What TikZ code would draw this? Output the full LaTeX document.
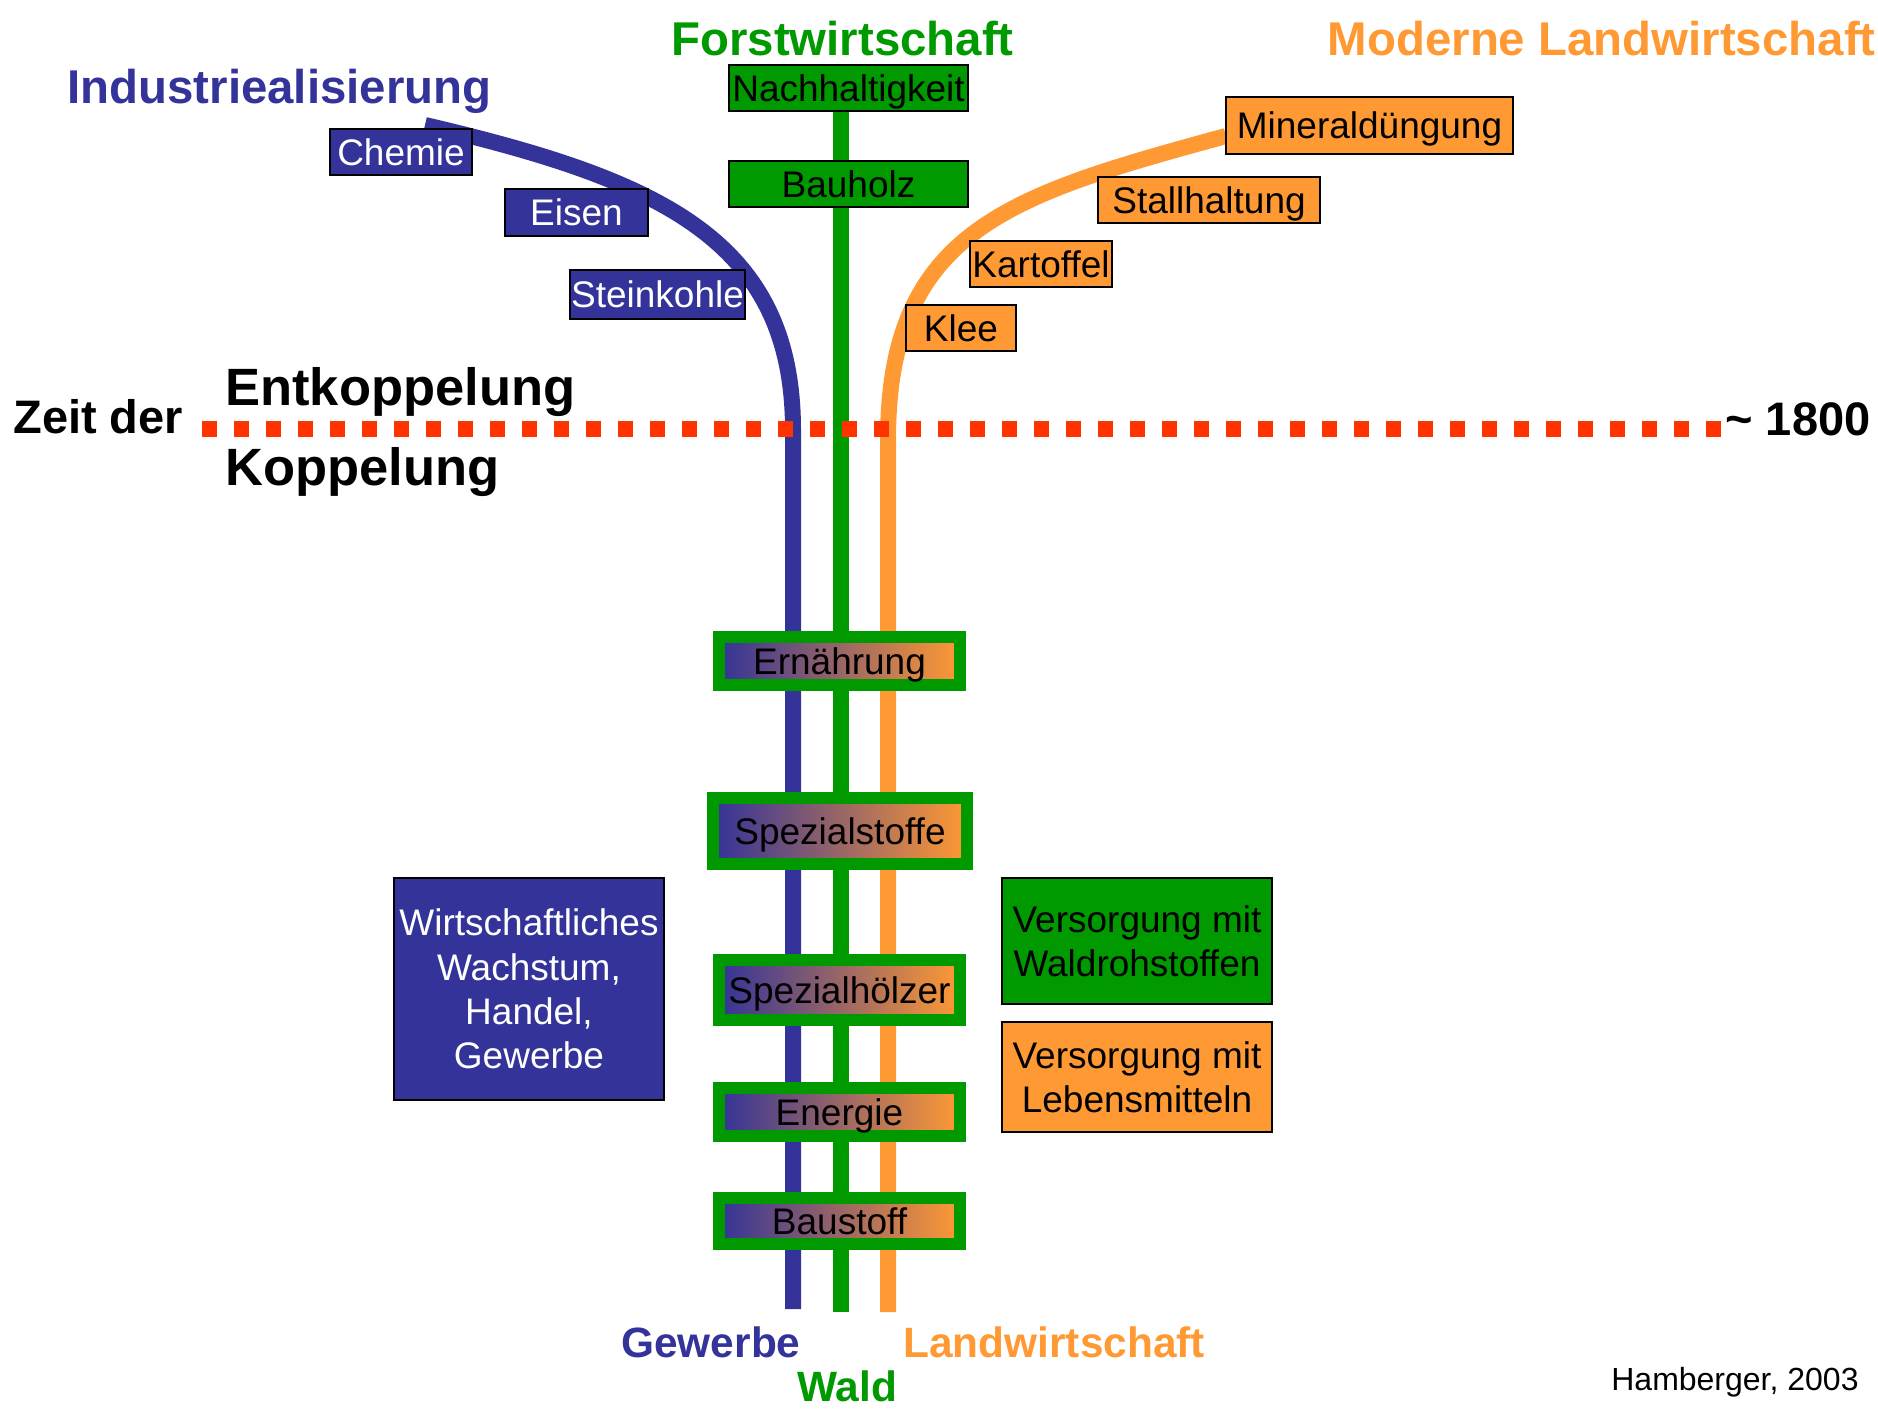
\documentclass[tikz,border=0pt]{standalone}
\usepackage{fontspec}
\setmainfont{Liberation Sans}
\definecolor{cblue}{HTML}{333399}
\definecolor{cgreen}{HTML}{009900}
\definecolor{corange}{HTML}{FF9933}
\definecolor{cred}{HTML}{FF3300}
\tikzset{
  track/.style={line width=8pt},
  lbl/.style={draw=black, line width=1pt, inner sep=0pt, font=\fontsize{18.5}{22.2}\selectfont, text height=13.25pt, text depth=0pt},
  mlbl/.style={draw=black, line width=1pt, inner sep=0pt, font=\fontsize{18.5}{22.2}\selectfont, align=center},
  gradbox/.style={draw=cgreen, line width=6pt, left color=cblue, right color=corange, inner sep=0pt, font=\fontsize{18.5}{22.2}\selectfont, text height=13.25pt, text depth=0pt},
  hd/.style={inner sep=0pt, font=\bfseries\fontsize{23.7}{28}\selectfont},
  hdb/.style={inner sep=0pt, font=\bfseries\fontsize{26.25}{30}\selectfont},
  hdm/.style={inner sep=0pt, font=\bfseries\fontsize{23.5}{28}\selectfont},
  hdf/.style={inner sep=0pt, font=\bfseries\fontsize{21.2}{25}\selectfont},
}
\begin{document}
\begin{tikzpicture}[x=0.5pt,y=-0.5pt]
\fill[white] (0,0) rectangle (1878,1408);
\useasboundingbox (0,0) rectangle (1878,1408);

% tracks
\coordinate (bTop) at (425,125);
\coordinate (bBot) at (793,1309);
\coordinate (gTop) at (841,100);
\coordinate (gBot) at (841,1312);
\coordinate (oTop) at (1226,136);
\coordinate (oBot) at (888,1312);
\draw[track, cblue] (bTop) .. controls (660,180) and (793,240) .. (793,430) -- (bBot);
\draw[track, cgreen] (gTop) -- (gBot);
\draw[track, corange] (oTop) .. controls (1010,195) and (888,230) .. (888,440) -- (oBot);

% dotted line
\foreach \i in {0,...,47} \fill[cred] ({202+32*\i},421) rectangle ++(15,16);

% headings
\node[hd, text=cblue, anchor=base west] (ind) at (67,103) {Industriealisierung};
\node[hd, text=cgreen, anchor=base] (forst) at (842.5,55) {Forstwirtschaft};
\node[hd, text=corange, anchor=base east] (mod) at (1876,55) {Moderne Landwirtschaft};
\node[hdm, anchor=base west] (zeit) at (13,433) {Zeit der};
\node[hdb, anchor=base west] (entk) at (225,405) {Entkoppelung};
\node[hdb, anchor=base west] (kopp) at (225,485) {Koppelung};
\node[hdm, anchor=base west] (jahr) at (1725,435) {\textasciitilde\ 1800};
\node[hdf, text=cblue, anchor=base west] (gew) at (621,1357) {Gewerbe};
\node[hdf, text=corange, anchor=base west] (lw) at (903,1357) {Landwirtschaft};
\node[hdf, text=cgreen, anchor=base west] (wald) at (797,1401) {Wald};
\node[inner sep=0pt, font=\fontsize{16}{19}\selectfont, anchor=base east] (src) at (1859,1390) {Hamberger, 2003};

% blue labels
\node[lbl, fill=cblue, text=white, minimum width=71pt, minimum height=23pt] (chem) at (401,152) {Chemie};
\node[lbl, fill=cblue, text=white, minimum width=71.5pt, minimum height=23.5pt] (eis) at (576.5,212.5) {Eisen};
\node[lbl, fill=cblue, text=white, minimum width=87.5pt, minimum height=24.5pt] (stk) at (657.5,294.5) {Steinkohle};

% green labels
\node[lbl, fill=cgreen, minimum width=119.5pt, minimum height=23pt] (nach) at (848.5,88) {Nachhaltigkeit};
\node[lbl, fill=cgreen, minimum width=119.5pt, minimum height=23pt] (bauh) at (848.5,184) {Bauholz};

% orange labels
\node[lbl, fill=corange, minimum width=143.5pt, minimum height=28.5pt] (min) at (1369.5,125.5) {Mineraldüngung};
\node[lbl, fill=corange, minimum width=111pt, minimum height=23pt] (stall) at (1209,200) {Stallhaltung};
\node[lbl, fill=corange, minimum width=71pt, minimum height=23pt] (kart) at (1041,264) {Kartoffel};
\node[lbl, fill=corange, minimum width=55pt, minimum height=23pt] (klee) at (961,328) {Klee};

% gradient boxes
\node[gradbox, minimum width=120.5pt, minimum height=24pt] (ern) at (839.5,661) {Ernährung};
\node[gradbox, minimum width=127pt, minimum height=33pt] (spst) at (840,831) {Spezialstoffe};
\node[gradbox, minimum width=120.5pt, minimum height=30pt] (sph) at (839.5,990) {Spezialhölzer};
\node[gradbox, minimum width=120.5pt, minimum height=24pt] (ene) at (839.5,1112) {Energie};
\node[gradbox, minimum width=120.5pt, minimum height=23pt] (baus) at (839.5,1221) {Baustoff};

% legend boxes
\node[mlbl, fill=cblue, text=white, minimum width=135pt, minimum height=111pt] (wirt) at (529,989) {Wirtschaftliches\\Wachstum,\\Handel,\\Gewerbe};
\node[mlbl, fill=cgreen, minimum width=135pt, minimum height=63pt] (vwald) at (1137,941) {Versorgung mit\\Waldrohstoffen};
\node[mlbl, fill=corange, minimum width=135pt, minimum height=55pt] (vleb) at (1137,1077) {Versorgung mit\\Lebensmitteln};
\end{tikzpicture}
\end{document}
